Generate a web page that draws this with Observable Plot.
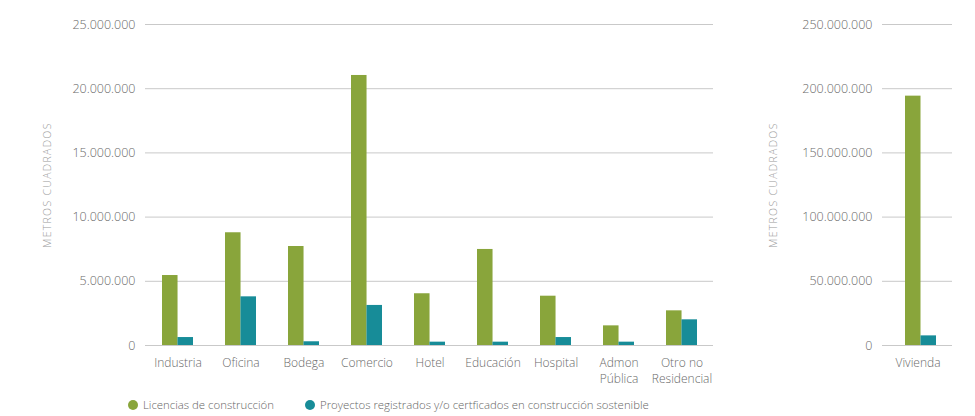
<!DOCTYPE html>
<html>
<head>
<meta charset="utf-8">
<script src="https://cdn.jsdelivr.net/npm/d3@7"></script>
<script src="https://cdn.jsdelivr.net/npm/@observablehq/plot@0.6"></script>
<style>
  html, body { margin: 0; padding: 0; background: #fff; }
  #wrap { position: relative; width: 975px; height: 416px; font-family: "Open Sans", sans-serif; overflow: hidden; }
  #left { position: absolute; left: 0; top: 0; }
  #right { position: absolute; left: 740px; top: 0; }
  svg { font-family: "Open Sans", sans-serif; font-weight: 300; }
  g[aria-label="y-axis label"] text { letter-spacing: 1.3px; fill: #999; }
  #legend { position: absolute; left: 128px; top: 396px; display: flex; align-items: center; font-size: 11.4px; line-height: 18px; color: #666; font-weight: 300; white-space: nowrap; z-index: 2; }
  .item { display: flex; align-items: center; margin-right: 31px; }
  .sw { width: 10px; height: 10px; border-radius: 50%; display: inline-block; margin-right: 5px; }
</style>
</head>
<body>
<div id="wrap">
  <div id="left"></div>
  <div id="right"></div>
  <div id="legend"></div>
</div>
<script>
// ---- data ----
const categories = ["Industria", "Oficina", "Bodega", "Comercio", "Hotel", "Educación", "Hospital", "Admon\nPública", "Otro no\nResidencial"];
const licencias = [5450000, 8780000, 7710000, 21030000, 4030000, 7480000, 3840000, 1530000, 2700000];
const proyectos = [620000, 3790000, 290000, 3120000, 260000, 260000, 620000, 260000, 2000000];

const viviendaCategory = ["Vivienda"];
const licenciasVivienda = [194200000];
const proyectosVivienda = [7500000];

const seriesNames = ["Licencias de construcción", "Proyectos registrados y/o certficados en construcción sostenible"];
const seriesColors = ["#89a53b", "#178c98"];

const leftTicks = [0, 5000000, 10000000, 15000000, 20000000, 25000000];
const rightTicks = [0, 50000000, 100000000, 150000000, 200000000, 250000000];
const yLabel = "METROS CUADRADOS";

// ---- helpers ----
const fmt = d3.formatLocale({decimal: ",", thousands: ".", grouping: [3], currency: ["", ""]}).format(",");

function makeChart({cats, a, b, ticks, width, marginLeft, marginRight, paddingInner, paddingOuter, labelOffset, dx}) {
  const height = 400, marginTop = 24, marginBottom = 55;
  const n = cats.length;
  const step = (width - marginLeft - marginRight) / (n - paddingInner + 2 * paddingOuter);
  const bw = step * (1 - paddingInner);
  const rows = cats.map((c, i) => ({category: c, a: a[i], b: b[i]}));
  return Plot.plot({
    width, height, marginTop, marginBottom, marginLeft, marginRight,
    style: {fontSize: "12px", color: "#6a6a6a", background: "transparent", overflow: "visible"},
    x: {domain: cats, paddingInner, paddingOuter, label: null},
    y: {domain: [ticks[0], ticks[ticks.length - 1]], label: null},
    marks: [
      Plot.gridY(ticks, {stroke: "#c9c9c9", strokeOpacity: 1, strokeWidth: 1}),
      Plot.barY(rows, {x: "category", y: "a", fill: seriesColors[0], insetRight: bw / 2, dx}),
      Plot.barY(rows, {x: "category", y: "b", fill: seriesColors[1], insetLeft: bw / 2, dx}),
      Plot.axisY(ticks, {tickSize: 0, tickPadding: 10, tickFormat: fmt, fontSize: 12.5, letterSpacing: 0.8,
        label: yLabel, labelAnchor: "center", labelOffset, labelArrow: "none"}),
      Plot.axisX({tickSize: 0, tickPadding: 10, fontSize: 12, lineHeight: 1.35, label: null})
    ]
  });
}

const left = makeChart({cats: categories, a: licencias, b: proyectos, ticks: leftTicks,
  width: 740, marginLeft: 145, marginRight: 27, paddingInner: 0.51, paddingOuter: 0.255, labelOffset: 102, dx: 0});
document.getElementById("left").appendChild(left);

const right = makeChart({cats: viviendaCategory, a: licenciasVivienda, b: proyectosVivienda, ticks: rightTicks,
  width: 235, marginLeft: 142, marginRight: 23, paddingInner: 0, paddingOuter: 0.629, labelOffset: 113, dx: 3});
document.getElementById("right").appendChild(right);

// axis title size
for (const svg of [left, right]) {
  svg.querySelectorAll('g[aria-label="y-axis label"] text').forEach(t => { t.setAttribute("font-size", "10.5"); });
}

// ---- legend ----
const legend = document.getElementById("legend");
seriesNames.forEach((name, i) => {
  const item = document.createElement("span");
  item.className = "item";
  const sw = document.createElement("span");
  sw.className = "sw";
  sw.style.background = seriesColors[i];
  item.appendChild(sw);
  item.appendChild(document.createTextNode(name));
  legend.appendChild(item);
});
</script>
</body>
</html>
